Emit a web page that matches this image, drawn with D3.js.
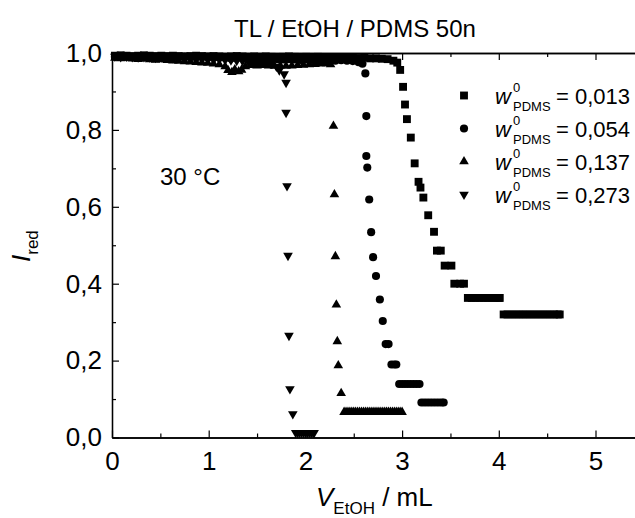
<!DOCTYPE html>
<html>
<head>
<meta charset="utf-8">
<script src="https://cdn.jsdelivr.net/npm/d3@7"></script>
<style>
  body { margin: 0; background: #fff; }
  svg { display: block; font-family: "Liberation Sans", Arial, sans-serif; }
</style>
</head>
<body>
<div id="chart"></div>
<script>
// -------- Data --------
const xTicks = [0, 1, 2, 3, 4, 5];
const xMinorTicks = [0.5, 1.5, 2.5, 3.5, 4.5, 5.5];
const yTicks = [0, 0.2, 0.4, 0.6, 0.8, 1.0];
const yMinorTicks = [0.1, 0.3, 0.5, 0.7, 0.9];
const seriesLabels = ["0,013", "0,054", "0,137", "0,273"];

// w0 PDMS = 0,013 (squares)
const pdms013 = [
  [0.03,0.993],[0.09,0.994],[0.15,0.993],[0.21,0.992],[0.27,0.993],[0.33,0.994],[0.39,0.993],[0.45,0.992],
  [0.51,0.993],[0.57,0.992],[0.63,0.993],[0.69,0.992],[0.75,0.991],[0.81,0.992],[0.87,0.993],[0.93,0.992],
  [0.99,0.991],[1.05,0.992],[1.11,0.991],[1.17,0.990],[1.23,0.991],[1.29,0.992],[1.35,0.991],[1.41,0.990],
  [1.47,0.991],[1.53,0.990],[1.59,0.991],[1.65,0.990],[1.71,0.989],[1.77,0.990],[1.83,0.991],[1.89,0.990],
  [1.95,0.989],[2.01,0.990],[2.07,0.989],[2.13,0.990],[2.19,0.989],[2.25,0.988],[2.31,0.989],[2.37,0.988],
  [2.43,0.989],[2.49,0.988],[2.55,0.987],[2.61,0.988],[2.67,0.986],[2.73,0.986],[2.79,0.985],[2.85,0.984],
  [2.91,0.980],[2.95,0.975],
  [2.98,0.956],[3.01,0.912],[3.03,0.866],[3.05,0.828],[3.09,0.780],[3.13,0.713],[3.17,0.665],[3.19,0.650],
  [3.22,0.624],[3.27,0.578],[3.33,0.535],[3.36,0.486],[3.40,0.486],[3.44,0.447],[3.51,0.447],[3.54,0.400],
  [3.60,0.400],[3.64,0.400],
  [3.68,0.363],[3.72,0.363],[3.76,0.363],[3.80,0.363],[3.84,0.363],[3.88,0.363],[3.92,0.363],[3.96,0.363],
  [4.00,0.363],[4.01,0.363],
  [4.05,0.320],[4.09,0.320],[4.13,0.320],[4.17,0.320],[4.21,0.320],[4.25,0.320],[4.29,0.320],[4.33,0.320],
  [4.37,0.320],[4.41,0.320],[4.45,0.320],[4.49,0.320],[4.53,0.320],[4.57,0.320],[4.61,0.320],[4.63,0.320]
];

// w0 PDMS = 0,054 (circles)
const pdms054 = [
  [0.03,0.990],[0.09,0.991],[0.15,0.990],[0.21,0.989],[0.27,0.990],[0.33,0.991],[0.39,0.990],[0.45,0.989],
  [0.51,0.990],[0.57,0.989],[0.63,0.988],[0.69,0.989],[0.75,0.990],[0.81,0.989],[0.87,0.988],[0.93,0.989],
  [0.99,0.988],[1.05,0.987],[1.11,0.988],[1.17,0.987],[1.23,0.986],[1.29,0.987],[1.35,0.986],[1.41,0.985],
  [1.47,0.986],[1.53,0.985],[1.59,0.984],[1.65,0.985],[1.71,0.984],[1.77,0.983],[1.83,0.984],[1.89,0.983],
  [1.95,0.982],[2.01,0.983],[2.07,0.982],[2.13,0.981],[2.19,0.982],[2.25,0.981],[2.31,0.980],[2.37,0.981],
  [2.43,0.980],[2.49,0.979],[2.55,0.976],[2.59,0.972],
  [2.62,0.947],[2.63,0.836],[2.63,0.732],[2.64,0.702],[2.66,0.619],[2.68,0.534],[2.70,0.469],[2.73,0.420],
  [2.77,0.359],[2.80,0.303],[2.83,0.243],[2.86,0.243],[2.89,0.190],[2.92,0.190],[2.94,0.190],
  [2.97,0.139],[3.00,0.139],[3.03,0.139],[3.06,0.139],[3.09,0.139],[3.12,0.139],[3.15,0.139],[3.18,0.139],
  [3.20,0.091],[3.23,0.091],[3.26,0.091],[3.29,0.091],[3.32,0.091],[3.35,0.091],[3.38,0.091],[3.41,0.091],
  [3.43,0.091]
];

// w0 PDMS = 0,137 (triangles up)
const pdms137 = [
  [0.03,0.987],[0.09,0.986],[0.15,0.987],[0.21,0.985],[0.27,0.984],[0.33,0.985],[0.39,0.983],[0.45,0.982],
  [0.51,0.983],[0.57,0.981],[0.63,0.980],[0.69,0.979],[0.75,0.978],[0.81,0.977],[0.87,0.976],[0.93,0.975],
  [0.99,0.974],[1.05,0.972],[1.11,0.970],[1.17,0.965],[1.20,0.955],[1.24,0.950],[1.27,0.957],[1.31,0.952],
  [1.34,0.956],[1.38,0.965],[1.44,0.968],[1.50,0.967],[1.56,0.968],[1.62,0.967],[1.68,0.966],[1.74,0.967],
  [1.80,0.966],[1.86,0.967],[1.92,0.968],[1.98,0.969],[2.04,0.970],[2.10,0.971],[2.16,0.972],[2.22,0.973],
  [2.26,0.970],
  [2.29,0.810],[2.30,0.632],[2.31,0.471],[2.32,0.345],[2.33,0.250],[2.34,0.187],[2.37,0.115],
  [2.40,0.066],[2.42,0.066],[2.44,0.066],[2.46,0.066],[2.48,0.066],[2.50,0.066],[2.52,0.066],[2.54,0.066],
  [2.56,0.066],[2.58,0.066],[2.60,0.066],[2.62,0.066],[2.64,0.066],[2.66,0.066],[2.68,0.066],[2.70,0.066],
  [2.72,0.066],[2.74,0.066],[2.76,0.066],[2.78,0.066],[2.80,0.066],[2.82,0.066],[2.84,0.066],[2.86,0.066],
  [2.88,0.066],[2.90,0.066],[2.92,0.066],[2.94,0.066],[2.96,0.066],[2.98,0.066],[3.00,0.066]
];

// w0 PDMS = 0,273 (triangles down)
const pdms273 = [
  [0.03,0.991],[0.09,0.990],[0.15,0.991],[0.21,0.990],[0.27,0.989],[0.33,0.990],[0.39,0.989],[0.45,0.988],
  [0.51,0.989],[0.57,0.988],[0.63,0.987],[0.69,0.988],[0.75,0.987],[0.81,0.986],[0.87,0.985],[0.93,0.986],
  [0.99,0.985],[1.05,0.984],[1.11,0.983],[1.17,0.982],[1.23,0.981],[1.29,0.980],[1.35,0.979],[1.41,0.978],
  [1.47,0.977],[1.53,0.976],[1.59,0.975],[1.65,0.973],[1.70,0.965],[1.73,0.955],[1.78,0.945],[1.80,0.923],
  [1.80,0.845],[1.81,0.654],[1.82,0.473],[1.83,0.265],[1.84,0.126],[1.87,0.061],
  [1.90,0.0125],[1.92,0.0125],[1.94,0.0125],[1.96,0.0125],[1.98,0.0125],[2.00,0.0125],[2.02,0.0125],
  [2.04,0.0125],[2.06,0.0125],[2.08,0.0125],[2.09,0.0125]
];

// -------- Layout --------
const W = 635, H = 518;
const FONT = '"Liberation Sans", Arial, sans-serif';

const svg = d3.select("#chart").append("svg")
  .attr("width", W)
  .attr("height", H);

const x = d3.scaleLinear().domain([0, 5.6]).range([112, 112 + 5.6 * 96.7]);
const y = d3.scaleLinear().domain([0, 1]).range([437.5, 53]);

const comma = d => d3.format(".1f")(d).replace(".", ",");

// -------- Axes (ticks point inward) --------
function styleAxis(sel) {
  sel.selectAll("path.domain").attr("stroke", "#000").attr("stroke-width", 1.3);
  sel.selectAll(".tick line").attr("stroke", "#000").attr("stroke-width", 1.2);
  sel.selectAll(".tick text").attr("fill", "#000").attr("font-size", 26).attr("font-family", FONT);
}

svg.append("g")
  .attr("transform", `translate(0,${y(0)})`)
  .call(d3.axisBottom(x).tickValues(xTicks).tickSize(-7).tickSizeOuter(0).tickPadding(14)
    .tickFormat(d3.format("d")))
  .call(styleAxis);

svg.append("g")
  .attr("transform", `translate(0,${y(0)})`)
  .call(d3.axisBottom(x).tickValues(xMinorTicks).tickSize(-4).tickSizeOuter(0).tickFormat(""))
  .call(styleAxis);

svg.append("g")
  .attr("transform", `translate(0,${y(1)})`)
  .call(d3.axisTop(x).tickValues(xTicks).tickSize(-7).tickSizeOuter(0).tickFormat(""))
  .call(styleAxis);

svg.append("g")
  .attr("transform", `translate(0,${y(1)})`)
  .call(d3.axisTop(x).tickValues(xMinorTicks).tickSize(-4).tickSizeOuter(0).tickFormat(""))
  .call(styleAxis);

svg.append("g")
  .attr("transform", `translate(${x(0)},0)`)
  .call(d3.axisLeft(y).tickValues(yTicks).tickSize(-7).tickSizeOuter(0).tickPadding(10).tickFormat(comma))
  .call(styleAxis);

svg.append("g")
  .attr("transform", `translate(${x(0)},0)`)
  .call(d3.axisLeft(y).tickValues(yMinorTicks).tickSize(-4).tickSizeOuter(0).tickFormat(""))
  .call(styleAxis);

// -------- Markers --------
const symbols = [
  { data: pdms013, type: d3.symbolSquare, size: 62, rot: 0 },
  { data: pdms054, type: d3.symbolCircle, size: 52, rot: 0 },
  { data: pdms137, type: d3.symbolTriangle, size: 40, rot: 0 },
  { data: pdms273, type: d3.symbolTriangle, size: 40, rot: 180 }
];

symbols.forEach(s => {
  svg.append("g")
    .selectAll("path")
    .data(s.data)
    .join("path")
    .attr("d", d3.symbol().type(s.type).size(s.size))
    .attr("transform", d => `translate(${x(d[0])},${y(d[1])}) rotate(${s.rot})`)
    .attr("fill", "#000");
});

// -------- Legend --------
const legend = svg.append("g").attr("font-family", FONT).attr("fill", "#000");
seriesLabels.forEach((lab, i) => {
  const base = 104 + i * 33;
  const s = symbols[i];
  legend.append("path")
    .attr("d", d3.symbol().type(s.type).size(s.size))
    .attr("transform", `translate(464,${base - 8.5}) rotate(${s.rot})`)
    .attr("fill", "#000");
  legend.append("text").attr("x", 495).attr("y", base)
    .attr("font-size", 22).attr("font-style", "italic").text("w");
  legend.append("text").attr("x", 513).attr("y", base - 12)
    .attr("font-size", 13).text("0");
  legend.append("text").attr("x", 513).attr("y", base + 7)
    .attr("font-size", 13).text("PDMS");
  legend.append("text").attr("x", 556).attr("y", base)
    .attr("font-size", 22).text("= " + lab);
});

// -------- Texts --------
svg.append("text")
  .attr("x", 355).attr("y", 37)
  .attr("text-anchor", "middle")
  .attr("font-family", FONT).attr("font-size", 24)
  .text("TL / EtOH / PDMS 50n");

svg.append("text")
  .attr("x", 160).attr("y", 185)
  .attr("font-family", FONT).attr("font-size", 24)
  .text("30 °C");

// x axis title
const xt = svg.append("text")
  .attr("x", 316).attr("y", 506)
  .attr("font-family", FONT).attr("font-size", 26);
xt.append("tspan").attr("font-style", "italic").text("V");
xt.append("tspan").attr("font-size", 17).attr("dy", 8).text("EtOH");
xt.append("tspan").attr("dy", -8).text(" / mL");

// y axis title
const yt = svg.append("text")
  .attr("transform", "translate(30,262) rotate(-90)")
  .attr("font-family", FONT).attr("font-size", 26);
yt.append("tspan").attr("font-style", "italic").text("I");
yt.append("tspan").attr("font-size", 17).attr("dy", 8).text("red");
</script>
</body>
</html>
